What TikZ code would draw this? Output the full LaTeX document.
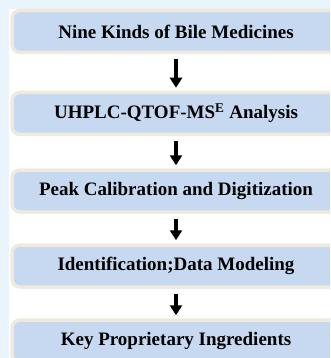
\documentclass[tikz,border=0pt]{standalone}
\usepackage{fontspec}
\setmainfont{Liberation Serif}
\usepackage{tikz}
\usetikzlibrary{arrows.meta,positioning}
\definecolor{bgblue}{HTML}{EAF4FD}
\definecolor{boxblue}{HTML}{C6D9F1}
\definecolor{boxrim}{HTML}{EEEBDE}
\tikzset{
  stage/.style ={draw=boxrim,line width=3.5pt,fill=boxblue,rounded corners=8pt,
                 minimum width=328pt,minimum height=42pt,inner sep=0pt,
                 font=\fontsize{19}{22}\selectfont\bfseries},
  flow/.style  ={-{Triangle[length=10pt,width=12pt]},line width=3.2pt,
                 shorten <=5pt,shorten >=3pt},
}
\begin{document}
\begin{tikzpicture}[x=1pt,y=1pt]
  \useasboundingbox (0,0) rectangle (330,-358);
  \fill[bgblue] (0,0) rectangle (330,-358);
  \fill[white] (9,-9) rectangle (330,-358);
  \begin{scope}
    \clip (0,0) rectangle (330,-358);
    \node[stage] (s1) at (176,-31.5) {Nine Kinds of Bile Medicines};
    \node[stage] (s2) at (176,-113.5) {UHPLC-QTOF-MS\textsuperscript{E} Analysis};
    \node[stage] (s3) at (176,-191) {Peak Calibration and Digitization};
    \node[stage] (s4) at (176,-266) {Identification;Data Modeling};
    \node[stage] (s5) at (176,-341) {Key Proprietary Ingredients};
    \draw[flow] (s1) -- (s2);
    \draw[flow] (s2) -- (s3);
    \draw[flow] (s3) -- (s4);
    \draw[flow] (s4) -- (s5);
  \end{scope}
\end{tikzpicture}
\end{document}
